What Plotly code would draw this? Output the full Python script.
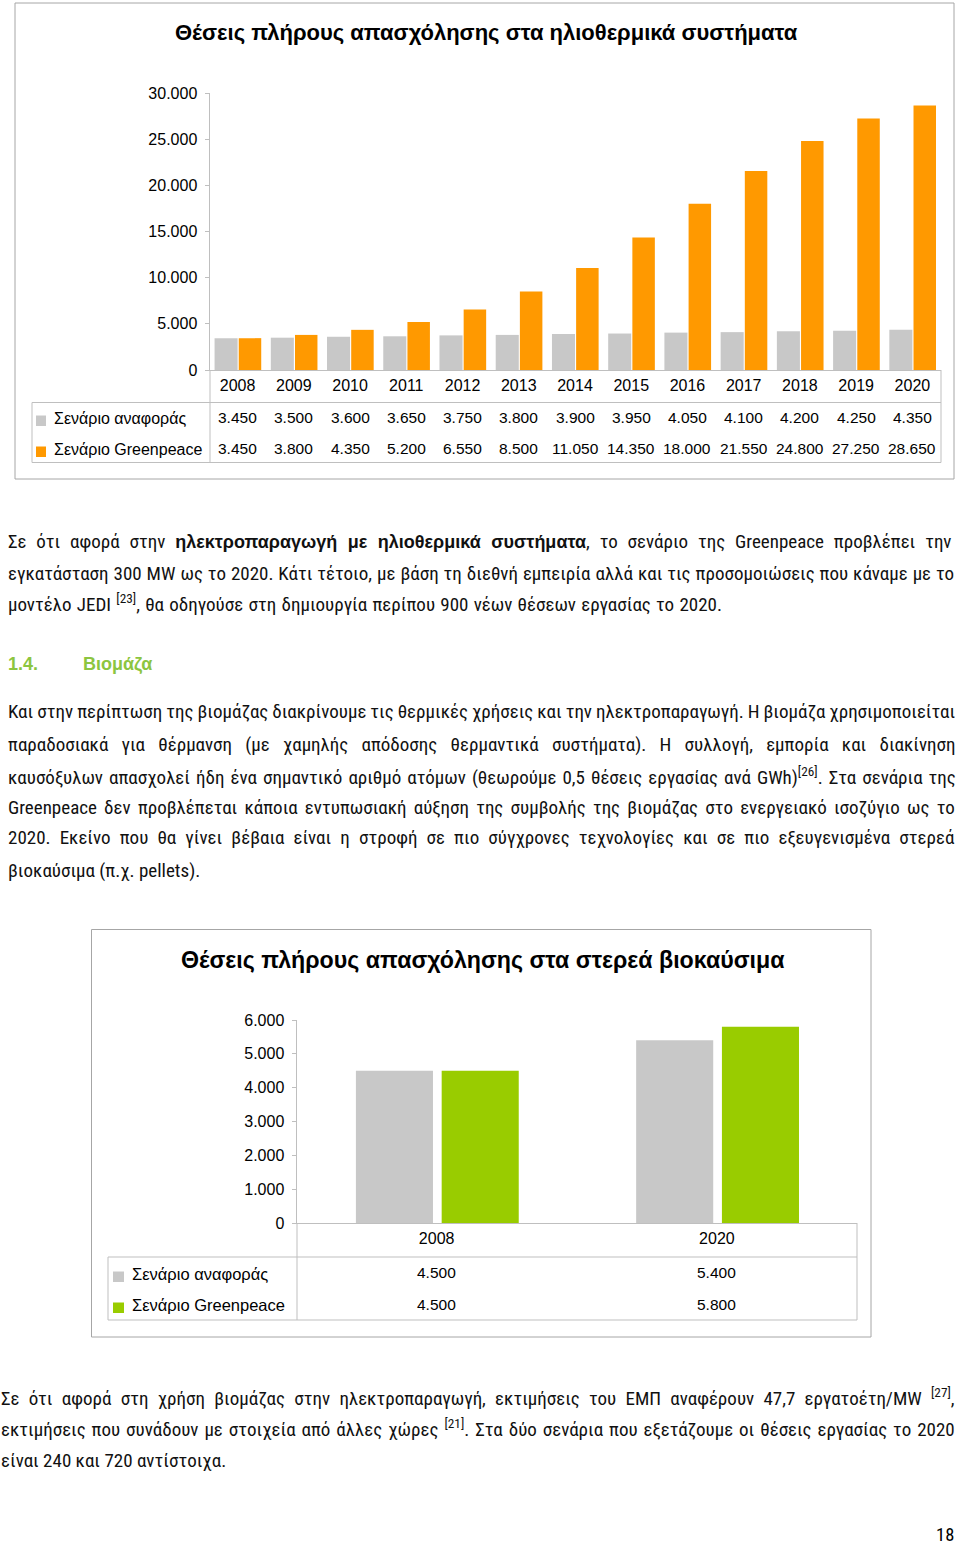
import plotly.graph_objects as go

# ---------------- data ----------------
solar_years = ["2008", "2009", "2010", "2011", "2012", "2013", "2014",
               "2015", "2016", "2017", "2018", "2019", "2020"]
solar_reference = [3450, 3500, 3600, 3650, 3750, 3800, 3900,
                   3950, 4050, 4100, 4200, 4250, 4350]
solar_greenpeace = [3450, 3800, 4350, 5200, 6550, 8500, 11050,
                    14350, 18000, 21550, 24800, 27250, 28650]
solar_ticks = [0, 5000, 10000, 15000, 20000, 25000, 30000]

bio_years = ["2008", "2020"]
bio_reference = [4500, 5400]
bio_greenpeace = [4500, 5800]
bio_ticks = [0, 1000, 2000, 3000, 4000, 5000, 6000]

series_names = ["Σενάριο αναφοράς", "Σενάριο Greenpeace"]
solar_title = "Θέσεις πλήρους απασχόλησης στα ηλιοθερμικά συστήματα"
bio_title = "Θέσεις πλήρους απασχόλησης στα στερεά βιοκαύσιμα"

para1 = [
    "Σε ότι αφορά στην <b><span style='font-family:Liberation Sans;font-stretch:normal;font-size:18px'>ηλεκτροπαραγωγή με ηλιοθερμικά συστήματα</span></b>, το σενάριο της Greenpeace προβλέπει την",
    "εγκατάσταση 300 MW ως το 2020. Κάτι τέτοιο, με βάση τη διεθνή εμπειρία αλλά και τις προσομοιώσεις που κάναμε με το",
    "μοντέλο JEDI <sup>[23]</sup>, θα οδηγούσε στη δημιουργία περίπου 900 νέων θέσεων εργασίας το 2020.",
]
para2 = [
    "Και στην περίπτωση της βιομάζας διακρίνουμε τις θερμικές χρήσεις και την ηλεκτροπαραγωγή. Η βιομάζα χρησιμοποιείται",
    "παραδοσιακά για θέρμανση (με χαμηλής απόδοσης θερμαντικά συστήματα). Η συλλογή, εμπορία και διακίνηση",
    "καυσόξυλων απασχολεί ήδη ένα σημαντικό αριθμό ατόμων (θεωρούμε 0,5 θέσεις εργασίας ανά GWh)<sup>[26]</sup>. Στα σενάρια της",
    "Greenpeace δεν προβλέπεται κάποια εντυπωσιακή αύξηση της συμβολής της βιομάζας στο ενεργειακό ισοζύγιο ως το",
    "2020. Εκείνο που θα γίνει βέβαια είναι η στροφή σε πιο σύγχρονες τεχνολογίες και σε πιο εξευγενισμένα στερεά",
    "βιοκαύσιμα (π.χ. pellets).",
]
para3 = [
    "Σε ότι αφορά στη χρήση βιομάζας στην ηλεκτροπαραγωγή, εκτιμήσεις του ΕΜΠ αναφέρουν 47,7 εργατοέτη/MW <sup>[27]</sup>,",
    "εκτιμήσεις που συνάδουν με στοιχεία από άλλες χώρες <sup>[21]</sup>. Στα δύο σενάρια που εξετάζουμε οι θέσεις εργασίας το 2020",
    "είναι 240 και 720 αντίστοιχα.",
]
heading_number = "1.4."
heading_text = "Βιομάζα"
page_number = "18"

# ---------------- styling / layout (pixels of the 960x1547 page) ----------------
W, H = 960, 1547
GRAY = "#C8C8C8"
ORANGE = "#FF9900"
GREEN = "#99CC00"
HEAD_GREEN = "#8CC540"
LINE = "#BFBFBF"
BOX = "#A6A6A6"
CHART_FONT = "Liberation Sans, Arial, sans-serif"
TEXT_FONT = "Liberation Sans Narrow, Arial Narrow, Roboto Condensed, Open Sans, sans-serif"
TEXT_SIZE = 19

para1_y = [541, 573, 604]
para1_ws = [5.5, 0.6, 0.9]
para2_y = [712, 744, 776, 807, 838, 870]
para2_ws = [-0.35, 8.9, 1.7, 2.85, 4.75, 0]
para3_y = [1397, 1428, 1460]
para3_ws = [4.9, 1.6, 0]


def px(x):
    return x / W


def py(y):
    return 1 - y / H


def fmt(v):
    return f"{v:,}".replace(",", ".")


fig = go.Figure()

# chart 1 bars
fig.add_trace(go.Bar(x=solar_years, y=solar_reference, name=series_names[0],
                     marker=dict(color=GRAY, line=dict(width=0)),
                     offset=-0.41, width=0.41, xaxis="x", yaxis="y"))
fig.add_trace(go.Bar(x=solar_years, y=solar_greenpeace, name=series_names[1],
                     marker=dict(color=ORANGE, line=dict(width=0)),
                     offset=0.02, width=0.40, xaxis="x", yaxis="y"))
# chart 2 bars
fig.add_trace(go.Bar(x=bio_years, y=bio_reference, name=series_names[0],
                     marker=dict(color=GRAY, line=dict(width=0)),
                     offset=-0.288, width=0.275, xaxis="x2", yaxis="y2"))
fig.add_trace(go.Bar(x=bio_years, y=bio_greenpeace, name=series_names[1],
                     marker=dict(color=GREEN, line=dict(width=0)),
                     offset=0.018, width=0.275, xaxis="x2", yaxis="y2"))

shapes = []
annotations = []


def hline(x0, x1, y, color=LINE):
    shapes.append(dict(type="line", xref="paper", yref="paper",
                       x0=px(x0), x1=px(x1), y0=py(y), y1=py(y),
                       line=dict(color=color, width=1)))


def vline(x, y0, y1, color=LINE):
    shapes.append(dict(type="line", xref="paper", yref="paper",
                       x0=px(x), x1=px(x), y0=py(y0), y1=py(y1),
                       line=dict(color=color, width=1)))


def rect(x0, y0, x1, y1, fill=None, color=BOX):
    shapes.append(dict(type="rect", xref="paper", yref="paper",
                       x0=px(x0), x1=px(x1), y0=py(y0), y1=py(y1),
                       fillcolor=fill if fill else "rgba(0,0,0,0)",
                       line=dict(color=color if not fill else fill, width=1 if not fill else 0)))


def text(x, y, s, size, family=CHART_FONT, anchor="left", color="#000000", xref="paper", pad=1):
    annotations.append(dict(x=x if xref != "paper" else px(x), y=py(y), xref=xref, yref="paper",
                            text=s, showarrow=False, xanchor=anchor, yanchor="middle",
                            borderpad=pad,
                            font=dict(size=size, family=family, color=color)))


def para_line(x, y, s, ws=0):
    text(x, y, "<span style='font-stretch:condensed;word-spacing:%.2fpx'>%s</span>" % (ws, s),
         TEXT_SIZE, family=TEXT_FONT, color="#111111")


# ---------- chart 1 frame & table ----------
rect(15, 3, 954, 479)
text(486, 32, "<b>" + solar_title + "</b>", 22, anchor="center")
vline(210, 370, 463)
hline(32, 941, 402.5)
hline(32, 941, 462.5)
vline(32, 402.5, 462.5)
vline(941, 370, 462.5)
rect(36, 415.5, 46, 426, fill=GRAY)
rect(36, 446.5, 46, 457, fill=ORANGE)
text(52, 419, series_names[0], 16)
text(52, 449, series_names[1], 16)
for i, (a, b) in enumerate(zip(solar_reference, solar_greenpeace)):
    text(i, 418, fmt(a), 15.5, anchor="center", xref="x")
    text(i, 448, fmt(b), 15.5, anchor="center", xref="x")

# ---------- chart 2 frame & table ----------
rect(91.5, 929.5, 871, 1337)
text(483, 960, "<b>" + bio_title + "</b>", 23.2, anchor="center")
vline(297, 1223, 1320)
hline(108, 857, 1257)
hline(108, 857, 1320)
vline(108, 1257, 1320)
vline(857, 1223, 1320)
rect(113, 1271.5, 124, 1282, fill=GRAY)
rect(113, 1302.5, 124, 1313, fill=GREEN)
text(130, 1274, series_names[0], 16.5)
text(130, 1305, series_names[1], 16.5)
for i, (a, b) in enumerate(zip(bio_reference, bio_greenpeace)):
    text(i, 1272, fmt(a), 15.5, anchor="center", xref="x2")
    text(i, 1304, fmt(b), 15.5, anchor="center", xref="x2")

# ---------- page text ----------
for line, y, ws in zip(para1, para1_y, para1_ws):
    para_line(6, y, line, ws)
text(6, 664, "<b>" + heading_number + "</b>", 18, color=HEAD_GREEN)
text(81, 664, "<b>" + heading_text + "</b>", 18, color=HEAD_GREEN)
for line, y, ws in zip(para2, para2_y, para2_ws):
    para_line(6, y, line, ws)
for line, y, ws in zip(para3, para3_y, para3_ws):
    para_line(-1, y, line, ws)
text(955, 1535, "<span style='font-stretch:condensed'>" + page_number + "</span>", 18.5,
     family=TEXT_FONT, anchor="right", pad=0)

axis_common = dict(showgrid=False, zeroline=False, showline=True, linecolor=LINE,
                   linewidth=1, fixedrange=True, automargin=False)

fig.update_layout(
    width=W, height=H, autosize=False,
    margin=dict(l=0, r=0, t=0, b=0, pad=0, autoexpand=False),
    paper_bgcolor="white", plot_bgcolor="white",
    showlegend=False, barmode="overlay",
    font=dict(family=CHART_FONT, color="#000000"),
    xaxis=dict(axis_common, domain=[px(209.5), px(940.5)], anchor="y",
               type="category", range=[-0.5, len(solar_years) - 0.5],
               ticks="", tickfont=dict(size=16), ticklabelstandoff=1),
    yaxis=dict(axis_common, domain=[py(370), py(93)], anchor="x", range=[0, 30000],
               tickvals=solar_ticks, ticktext=[fmt(v) for v in solar_ticks],
               ticks="outside", ticklen=4, tickcolor=LINE, tickfont=dict(size=16),
               ticklabelstandoff=4),
    xaxis2=dict(axis_common, domain=[px(296.5), px(857)], anchor="y2",
                type="category", range=[-0.5, len(bio_years) - 0.5],
                ticks="", tickfont=dict(size=16), ticklabelstandoff=1),
    yaxis2=dict(axis_common, domain=[py(1223), py(1020)], anchor="x2", range=[0, 6000],
                tickvals=bio_ticks, ticktext=[fmt(v) for v in bio_ticks],
                ticks="outside", ticklen=4, tickcolor=LINE, tickfont=dict(size=16),
                ticklabelstandoff=4),
    shapes=shapes, annotations=annotations,
)

fig.write_html("out.html", config={"displayModeBar": False, "staticPlot": True},
               post_script="document.body.style.margin='0px';")
